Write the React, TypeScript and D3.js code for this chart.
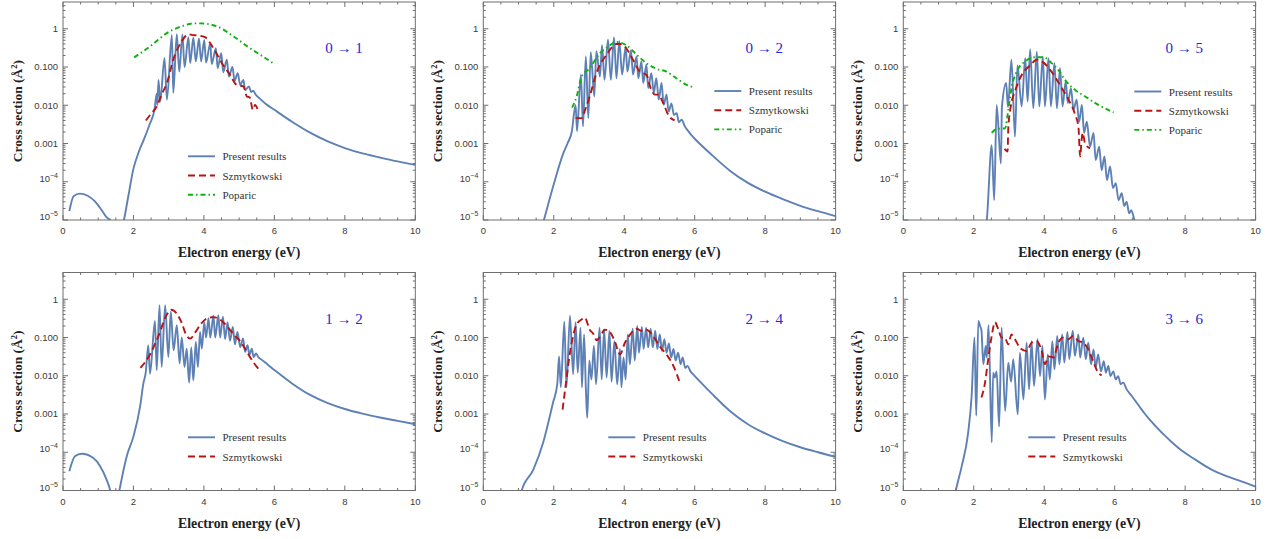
import React from 'react';
import * as d3 from 'd3';

type Pt = [number, number];

// ---------- axis values ----------
const xMajorTicks = [0, 2, 4, 6, 8, 10];
const xMinorTicks = [0.5, 1, 1.5, 2.5, 3, 3.5, 4.5, 5, 5.5, 6.5, 7, 7.5, 8.5, 9, 9.5];
const yDecades = [1e-5, 1e-4, 1e-3, 1e-2, 1e-1, 1];
const yDecadeLabels = ['10^-5', '10^-4', '0.001', '0.010', '0.100', '1'];
const xDomain: [number, number] = [0, 10];
const yDomain: [number, number] = [1e-5, 5];
const xTitle = 'Electron energy (eV)';
const legendNames = ['Present results', 'Szmytkowski', 'Poparic'];

// ---------- 0 -> 1 ----------
const p01Present: Pt[] = [
  [0.18, 1.7e-5], [0.3, 4.2e-5], [0.48, 4.9e-5], [0.7, 4.3e-5], [0.9, 3.1e-5], [1.1, 1.8e-5], [1.25, 1.15e-5], [1.34, 1e-5], [1.45, 4e-6],
  [1.62, 4e-6], [1.73, 1e-5], [1.85, 4e-5], [2.0, 2.2e-4], [2.15, 6e-4], [2.3, 1.3e-3], [2.45, 3e-3], [2.6, 8e-3],
  [2.66, 0.02], [2.68, 0.01], [2.71, 0.046], [2.76, 0.0126], [2.88, 0.17], [2.95, 0.014], [3.09, 0.69], [3.13, 0.021], [3.23, 0.72],
  [3.30, 0.076], [3.39, 0.70], [3.45, 0.10], [3.56, 0.60], [3.61, 0.126], [3.70, 0.58], [3.77, 0.14], [3.86, 0.56], [3.92, 0.14],
  [4.01, 0.51], [4.06, 0.13], [4.18, 0.42], [4.22, 0.12], [4.34, 0.31], [4.39, 0.093], [4.49, 0.23], [4.55, 0.073], [4.65, 0.154],
  [4.71, 0.056], [4.81, 0.10], [4.87, 0.044], [4.96, 0.069], [5.03, 0.034], [5.12, 0.046], [5.17, 0.025], [5.28, 0.031], [5.34, 0.022],
  [5.40, 0.024], [5.47, 0.019], [5.55, 0.016], [5.75, 0.011], [6.0, 0.0076], [6.5, 0.0037], [7.0, 0.00195], [7.5, 0.00115],
  [8.0, 7.6e-4], [8.5, 5.5e-4], [9.0, 4.3e-4], [9.5, 3.4e-4], [10, 2.75e-4],
];
const p01Szmyt: Pt[] = [
  [2.35, 0.004], [2.5, 0.006], [2.66, 0.0093], [2.8, 0.019], [2.95, 0.038], [3.13, 0.155], [3.37, 0.47], [3.56, 0.72], [3.68, 0.68],
  [3.80, 0.67], [4.03, 0.6], [4.27, 0.31], [4.51, 0.126], [4.74, 0.063], [4.93, 0.034], [5.12, 0.031], [5.22, 0.017], [5.30, 0.016],
  [5.39, 0.0076], [5.45, 0.0102], [5.55, 0.0065],
];
const p01Poparic: Pt[] = [
  [2.02, 0.178], [2.47, 0.345], [2.95, 0.77], [3.42, 1.2], [3.70, 1.38], [3.89, 1.38], [4.37, 1.15], [4.84, 0.63], [5.31, 0.31],
  [5.79, 0.16], [5.96, 0.126],
];

// ---------- 0 -> 2 ----------
const p02Present: Pt[] = [
  [1.6, 4e-6], [1.72, 1e-5], [1.98, 7.4e-5], [2.27, 5.5e-4], [2.39, 1.0e-3], [2.51, 0.002], [2.62, 0.0102], [2.66, 0.0021], [2.77, 0.063],
  [2.83, 0.0028], [2.91, 0.19], [2.98, 0.0046], [3.05, 0.245], [3.15, 0.017], [3.21, 0.26], [3.31, 0.056], [3.37, 0.37], [3.44, 0.046],
  [3.54, 0.52], [3.62, 0.046], [3.71, 0.59], [3.78, 0.051], [3.86, 0.47], [3.94, 0.063], [4.04, 0.34], [4.09, 0.076], [4.19, 0.27],
  [4.25, 0.063], [4.35, 0.19], [4.40, 0.051], [4.49, 0.14], [4.54, 0.038], [4.63, 0.114], [4.68, 0.028], [4.77, 0.069], [4.84, 0.021],
  [4.91, 0.051], [4.98, 0.014], [5.06, 0.038], [5.12, 0.0102], [5.20, 0.019], [5.26, 0.0068], [5.34, 0.0112], [5.41, 0.0056],
  [5.49, 0.0062], [5.55, 0.0036], [5.63, 0.0042], [5.72, 0.0028], [5.82, 0.0021], [5.92, 0.0016], [6.05, 0.0012], [6.5, 4.9e-4],
  [7.0, 1.95e-4], [7.5, 9.5e-5], [8.0, 5.5e-5], [8.5, 3.5e-5], [9.0, 2.35e-5], [9.5, 1.7e-5], [10, 1.26e-5],
];
const p02Szmyt: Pt[] = [
  [2.62, 0.0046], [2.79, 0.0046], [2.9, 0.008], [3.02, 0.017], [3.21, 0.069], [3.50, 0.21], [3.78, 0.40], [3.9, 0.40], [4.02, 0.34],
  [4.25, 0.154], [4.44, 0.076], [4.63, 0.062], [4.77, 0.025], [4.87, 0.019], [4.96, 0.019], [5.10, 0.0118], [5.25, 0.0056], [5.43, 0.004],
];
const p02Poparic: Pt[] = [
  [2.52, 0.0087], [2.65, 0.017], [2.79, 0.056], [3.02, 0.093], [3.31, 0.23], [3.54, 0.34], [3.78, 0.45], [4.06, 0.37], [4.35, 0.21],
  [4.63, 0.126], [4.91, 0.09], [5.2, 0.076], [5.48, 0.051], [5.77, 0.034], [5.94, 0.030],
];

// ---------- 0 -> 5 ----------
const p05Present: Pt[] = [
  [2.3, 4e-6], [2.37, 1e-5], [2.51, 9e-4], [2.58, 3.3e-5], [2.65, 0.0102], [2.77, 3e-4], [2.80, 0.009], [2.92, 0.038], [2.97, 0.009],
  [3.07, 0.155], [3.17, 0.0015], [3.24, 0.11], [3.36, 0.0093], [3.46, 0.17], [3.53, 0.0125], [3.60, 0.29], [3.69, 0.0083], [3.79, 0.25],
  [3.86, 0.0093], [3.96, 0.19], [4.02, 0.0093], [4.12, 0.17], [4.19, 0.0093], [4.29, 0.126], [4.36, 0.0083], [4.45, 0.093],
  [4.52, 0.0093], [4.61, 0.042], [4.67, 0.0114], [4.76, 0.028], [4.83, 0.0076], [4.92, 0.014], [4.99, 0.0037], [5.07, 0.0102],
  [5.13, 0.0019], [5.21, 0.0037], [5.30, 8.3e-4], [5.40, 0.0019], [5.46, 3.7e-4], [5.56, 8.3e-4], [5.63, 2.0e-4], [5.71, 4.6e-4],
  [5.78, 1.1e-4], [5.87, 2.5e-4], [5.95, 6.8e-5], [6.03, 9.1e-5], [6.11, 3.3e-5], [6.20, 5e-5], [6.27, 2.3e-5], [6.34, 3e-5],
  [6.41, 1.5e-5], [6.47, 1.8e-5], [6.56, 1e-5], [6.7, 4e-6],
];
const p05Szmyt: Pt[] = [
  [2.87, 7.2e-4], [2.96, 6.2e-4], [2.98, 0.0025], [3.05, 0.0093], [3.17, 0.023], [3.36, 0.062], [3.60, 0.11], [3.79, 0.155],
  [3.98, 0.13], [4.17, 0.084], [4.36, 0.046], [4.50, 0.028], [4.69, 0.014], [4.88, 0.0056], [4.97, 0.0028], [5.02, 4.6e-4],
  [5.06, 0.0012], [5.09, 0.0019], [5.16, 0.001], [5.30, 7.5e-4],
];
const p05Poparic: Pt[] = [
  [2.51, 0.0019], [2.65, 0.0024], [2.89, 0.0025], [2.98, 0.0076], [3.08, 0.031], [3.22, 0.076], [3.46, 0.14], [3.74, 0.18],
  [3.98, 0.18], [4.21, 0.126], [4.40, 0.084], [4.59, 0.046], [4.88, 0.025], [5.16, 0.017], [5.54, 0.0102], [5.97, 0.0065],
];

// ---------- 1 -> 2 ----------
const p12Present: Pt[] = [
  [0.18, 3.2e-5], [0.34, 7.9e-5], [0.53, 9.1e-5], [0.86, 7.1e-5], [1.05, 4.4e-5], [1.24, 1.9e-5], [1.34, 1e-5], [1.42, 4e-6],
  [1.52, 4e-6], [1.60, 1e-5], [1.81, 7.9e-5], [2.0, 2.6e-4], [2.19, 0.0016], [2.28, 0.0062], [2.35, 0.0125], [2.42, 0.063],
  [2.47, 0.0113], [2.61, 0.27], [2.66, 0.014], [2.74, 0.7], [2.80, 0.017], [2.90, 0.7], [2.99, 0.031], [3.06, 0.47], [3.14, 0.046],
  [3.23, 0.21], [3.31, 0.021], [3.37, 0.10], [3.45, 0.017], [3.51, 0.051], [3.58, 0.0066], [3.64, 0.055], [3.70, 0.0076], [3.77, 0.076],
  [3.83, 0.017], [3.89, 0.14], [3.94, 0.051], [4.01, 0.25], [4.06, 0.10], [4.13, 0.32], [4.18, 0.10], [4.27, 0.37], [4.32, 0.10],
  [4.41, 0.38], [4.46, 0.10], [4.54, 0.35], [4.60, 0.091], [4.67, 0.25], [4.74, 0.082], [4.82, 0.19], [4.88, 0.066], [4.95, 0.14],
  [5.03, 0.056], [5.11, 0.095], [5.17, 0.042], [5.24, 0.063], [5.29, 0.035], [5.36, 0.051], [5.41, 0.031], [5.48, 0.038], [5.55, 0.03],
  [5.62, 0.027], [6.0, 0.0141], [6.5, 0.0063], [7.0, 0.0032], [7.5, 0.00195], [8.0, 0.00135], [8.5, 0.00102],
  [9.0, 8.1e-4], [9.5, 6.6e-4], [10, 5.4e-4],
];
const p12Szmyt: Pt[] = [
  [2.2, 0.016], [2.47, 0.036], [2.71, 0.11], [2.95, 0.4], [3.07, 0.53], [3.23, 0.42], [3.37, 0.24], [3.51, 0.11], [3.61, 0.094],
  [3.75, 0.134], [3.92, 0.23], [4.1, 0.32], [4.27, 0.34], [4.44, 0.30], [4.65, 0.2], [4.84, 0.12], [5.03, 0.08], [5.2, 0.045],
  [5.41, 0.022], [5.6, 0.0133],
];

// ---------- 2 -> 4 ----------
const p24Present: Pt[] = [
  [1.0, 4e-6], [1.09, 1e-5], [1.42, 3.5e-5], [1.70, 1.8e-4], [1.98, 0.002], [2.10, 0.006], [2.15, 0.032], [2.20, 0.005], [2.30, 0.26],
  [2.36, 0.005], [2.46, 0.37], [2.55, 0.011], [2.62, 0.25], [2.68, 0.012], [2.76, 0.18], [2.80, 0.005], [2.86, 0.12], [2.91, 0.005],
  [2.95, 0.0008], [3.01, 0.025], [3.07, 0.008], [3.14, 0.06], [3.20, 0.006], [3.30, 0.18], [3.36, 0.008], [3.43, 0.16], [3.50, 0.009],
  [3.58, 0.15], [3.64, 0.007], [3.72, 0.08], [3.80, 0.006], [3.88, 0.05], [3.92, 0.005], [3.98, 0.03], [4.04, 0.008], [4.10, 0.12],
  [4.16, 0.02], [4.24, 0.17], [4.30, 0.025], [4.37, 0.2], [4.42, 0.04], [4.50, 0.19], [4.55, 0.05], [4.62, 0.18], [4.68, 0.055],
  [4.75, 0.17], [4.81, 0.055], [4.88, 0.15], [4.94, 0.05], [5.01, 0.12], [5.07, 0.045], [5.14, 0.09], [5.20, 0.04], [5.27, 0.07],
  [5.33, 0.03], [5.40, 0.05], [5.46, 0.025], [5.53, 0.04], [5.60, 0.02], [5.66, 0.03], [5.73, 0.016], [5.80, 0.018], [5.88, 0.013],
  [5.95, 0.011], [6.05, 0.0088], [6.2, 0.0063], [6.5, 0.0033], [7.0, 0.0012], [7.5, 5.5e-4], [8.0, 3.1e-4], [8.5, 1.95e-4],
  [9.0, 1.35e-4], [9.5, 1.0e-4], [10, 7.6e-5],
];
const p24Szmyt: Pt[] = [
  [2.25, 0.0013], [2.36, 0.0081], [2.45, 0.035], [2.65, 0.22], [2.80, 0.30], [2.88, 0.33], [3.02, 0.16], [3.12, 0.126], [3.22, 0.085],
  [3.30, 0.10], [3.45, 0.16], [3.59, 0.14], [3.73, 0.081], [3.88, 0.036], [4.02, 0.073], [4.14, 0.11], [4.35, 0.17], [4.49, 0.15],
  [4.63, 0.16], [4.82, 0.11], [5.01, 0.058], [5.20, 0.036], [5.41, 0.017], [5.58, 0.0065],
];

// ---------- 3 -> 6 ----------
const p36Present: Pt[] = [
  [1.4, 4e-6], [1.49, 1e-5], [1.66, 4.4e-5], [1.84, 3.2e-4], [1.94, 0.003], [2.02, 0.1], [2.07, 9e-4], [2.13, 0.27], [2.18, 0.2],
  [2.22, 0.15], [2.27, 0.02], [2.34, 0.06], [2.37, 0.03], [2.42, 0.21], [2.51, 1.8e-4], [2.55, 0.012], [2.60, 0.009], [2.65, 0.013],
  [2.72, 4.7e-4], [2.79, 0.18], [2.89, 0.0012], [2.98, 0.022], [3.06, 0.007], [3.12, 0.027], [3.25, 9.7e-4], [3.31, 0.04],
  [3.41, 0.0024], [3.50, 0.073], [3.57, 0.0044], [3.64, 0.08], [3.71, 0.0054], [3.81, 0.09], [3.88, 0.0098], [3.95, 0.06],
  [4.02, 0.0024], [4.10, 0.036], [4.16, 0.008], [4.23, 0.08], [4.29, 0.0147], [4.37, 0.11], [4.43, 0.02], [4.51, 0.12], [4.57, 0.022],
  [4.66, 0.14], [4.71, 0.027], [4.81, 0.15], [4.87, 0.033], [4.97, 0.12], [5.02, 0.03], [5.11, 0.099], [5.18, 0.027], [5.25, 0.073],
  [5.33, 0.02], [5.40, 0.049], [5.46, 0.016], [5.53, 0.036], [5.61, 0.013], [5.69, 0.024], [5.75, 0.012], [5.82, 0.018], [5.88, 0.0098],
  [5.96, 0.013], [6.03, 0.008], [6.10, 0.0098], [6.17, 0.006], [6.24, 0.0066], [6.34, 0.0044], [6.48, 0.0030], [6.62, 0.0020],
  [6.74, 0.0014], [6.86, 1.0e-3], [7.0, 7.0e-4], [7.33, 3.3e-4], [7.81, 1.3e-4], [8.28, 6.5e-5], [8.75, 3.5e-5], [9.22, 2.3e-5],
  [9.70, 1.6e-5], [10, 1.26e-5],
];
const p36Szmyt: Pt[] = [
  [2.22, 0.0027], [2.32, 0.0066], [2.41, 0.027], [2.51, 0.11], [2.60, 0.25], [2.70, 0.16], [2.79, 0.099], [2.88, 0.1], [2.98, 0.066],
  [3.07, 0.12], [3.17, 0.09], [3.31, 0.054], [3.50, 0.044], [3.64, 0.073], [3.78, 0.08], [3.93, 0.044], [4.02, 0.02], [4.12, 0.032],
  [4.26, 0.03], [4.40, 0.073], [4.54, 0.099], [4.68, 0.09], [4.82, 0.11], [4.97, 0.081], [5.11, 0.073], [5.25, 0.049], [5.39, 0.024],
  [5.53, 0.012], [5.63, 0.0103],
];

// ---------- panel table (built from the arrays above) ----------
const COLS = [63, 483.3, 903.3];
const ROWS = [2, 272.5];
const PW = 352.3;
const PH = 218;

type PanelSpec = {
  id: string; label: [string, string]; col: number; row: number;
  present: Pt[]; szmyt: Pt[]; poparic?: Pt[];
  legX: number; legY: number;
};

const panels: PanelSpec[] = [
  { id: 'a', label: ['0', '1'], col: 0, row: 0, present: p01Present, szmyt: p01Szmyt, poparic: p01Poparic, legX: 125, legY: 156.3 },
  { id: 'b', label: ['0', '2'], col: 1, row: 0, present: p02Present, szmyt: p02Szmyt, poparic: p02Poparic, legX: 231, legY: 91 },
  { id: 'c', label: ['0', '5'], col: 2, row: 0, present: p05Present, szmyt: p05Szmyt, poparic: p05Poparic, legX: 231, legY: 91.5 },
  { id: 'd', label: ['1', '2'], col: 0, row: 1, present: p12Present, szmyt: p12Szmyt, legX: 125, legY: 437.3 },
  { id: 'e', label: ['2', '4'], col: 1, row: 1, present: p24Present, szmyt: p24Szmyt, legX: 125, legY: 437.3 },
  { id: 'f', label: ['3', '6'], col: 2, row: 1, present: p36Present, szmyt: p36Szmyt, legX: 125, legY: 437.3 },
];

const BLUE = '#5E81B5';
const RED = '#B81414';
const GREEN = '#0FB00F';
const FRAME = '#6e6e6e';
const LABEL_BLUE = '#2626D4';
const SERIF = '"Liberation Serif", "Times New Roman", serif';
const SANS = '"Liberation Sans", Arial, sans-serif';

const yMinorTicks: number[] = [];
for (let k = -5; k <= 0; k++) {
  for (let m = 2; m <= 9; m++) {
    const v = m * Math.pow(10, k);
    if (v < yDomain[1]) yMinorTicks.push(v);
  }
}

function TickLabel({ text, x, y }: { text: string; x: number; y: number }) {
  if (text.startsWith('10^')) {
    const exp = text.slice(3).replace('-', '\u2212');
    return (
      <text x={x} y={y} textAnchor="end" fontFamily={SANS} fontSize={9.5} fill="#3a3a3a">
        10<tspan dy={-4} fontSize={7}>{exp}</tspan>
      </text>
    );
  }
  return (
    <text x={x} y={y + 3.5} textAnchor="end" fontFamily={SANS} fontSize={9.5} fill="#3a3a3a">{text}</text>
  );
}

function Panel({ p }: { p: PanelSpec }) {
  const left = COLS[p.col];
  const top = ROWS[p.row];
  const right = left + PW;
  const bottom = top + PH;
  const x = d3.scaleLinear().domain(xDomain).range([left, right]);
  const y = d3.scaleLog().domain(yDomain).range([bottom, top]);
  const line = d3.line<Pt>().x(d => x(d[0])).y(d => y(d[1])).curve(d3.curveMonotoneX);
  const clipId = `clip-${p.id}`;
  const legendSeries = [
    { name: legendNames[0], color: BLUE, dash: undefined as string | undefined },
    { name: legendNames[1], color: RED, dash: '7 4' },
  ];
  if (p.poparic) legendSeries.push({ name: legendNames[2], color: GREEN, dash: '5 3 1.5 3' });

  return (
    <g>
      <defs>
        <clipPath id={clipId}>
          <rect x={left} y={top} width={PW} height={PH} />
        </clipPath>
      </defs>
      <g clipPath={`url(#${clipId})`} fill="none">
        <path d={line(p.present) || ''} stroke={BLUE} strokeWidth={1.9} strokeLinejoin="round" />
        <path d={line(p.szmyt) || ''} stroke={RED} strokeWidth={1.9} strokeDasharray="7 4" />
        {p.poparic && (
          <path d={line(p.poparic) || ''} stroke={GREEN} strokeWidth={1.9} strokeDasharray="5 3 1.5 3" />
        )}
      </g>
      {/* frame */}
      <rect x={left} y={top} width={PW} height={PH} fill="none" stroke={FRAME} strokeWidth={1} />
      {/* x ticks */}
      {xMajorTicks.map(t => (
        <g key={`xM${t}`}>
          <line x1={x(t)} x2={x(t)} y1={bottom} y2={bottom - 5} stroke={FRAME} />
          <line x1={x(t)} x2={x(t)} y1={top} y2={top + 5} stroke={FRAME} />
          <text x={x(t)} y={bottom + 14} textAnchor="middle" fontFamily={SANS} fontSize={9.5} fill="#3a3a3a">{t}</text>
        </g>
      ))}
      {xMinorTicks.map(t => (
        <g key={`xm${t}`}>
          <line x1={x(t)} x2={x(t)} y1={bottom} y2={bottom - 2.5} stroke={FRAME} />
          <line x1={x(t)} x2={x(t)} y1={top} y2={top + 2.5} stroke={FRAME} />
        </g>
      ))}
      {/* y ticks */}
      {yDecades.map((t, i) => (
        <g key={`yM${t}`}>
          <line x1={left} x2={left + 5} y1={y(t)} y2={y(t)} stroke={FRAME} />
          <line x1={right} x2={right - 5} y1={y(t)} y2={y(t)} stroke={FRAME} />
          <TickLabel text={yDecadeLabels[i]} x={left - 5} y={y(t)} />
        </g>
      ))}
      {yMinorTicks.map(t => (
        <g key={`ym${t}`}>
          <line x1={left} x2={left + 2.5} y1={y(t)} y2={y(t)} stroke={FRAME} />
          <line x1={right} x2={right - 2.5} y1={y(t)} y2={y(t)} stroke={FRAME} />
        </g>
      ))}
      {/* axis titles */}
      <text x={(left + right) / 2} y={bottom + 37} textAnchor="middle" fontFamily={SERIF} fontWeight="bold" fontSize={13.8} fill="#222">
        {xTitle}
      </text>
      <text transform={`translate(${left - 41},${(top + bottom) / 2}) rotate(-90)`} textAnchor="middle" fontFamily={SERIF} fontWeight="bold" fontSize={13.5} fill="#222">
        Cross section (Å<tspan dy={-5} fontSize={8.5}>2</tspan><tspan dy={5}>)</tspan>
      </text>
      {/* panel label */}
      <text x={left + 281} y={top + 51} textAnchor="middle" fontFamily={SERIF} fontSize={15} fill={LABEL_BLUE}>
        {`${p.label[0]} \u2192 ${p.label[1]}`}
      </text>
      {/* legend */}
      {legendSeries.map((s, i) => {
        const ly = p.legY + i * 19.2;
        return (
          <g key={s.name}>
            <line x1={left + p.legX} x2={left + p.legX + 27} y1={ly} y2={ly} stroke={s.color} strokeWidth={1.9} strokeDasharray={s.dash} />
            <text x={left + p.legX + 34.5} y={ly + 4} fontFamily={SERIF} fontSize={11} fill="#333">{s.name}</text>
          </g>
        );
      })}
    </g>
  );
}

export default function App() {
  return (
    <svg width={1270} height={539} viewBox="0 0 1270 539" style={{ position: 'absolute', left: 0, top: 0, background: '#fff' }}>
      <rect x={0} y={0} width={1270} height={539} fill="#fff" />
      {panels.map(p => <Panel key={p.id} p={p} />)}
    </svg>
  );
}
